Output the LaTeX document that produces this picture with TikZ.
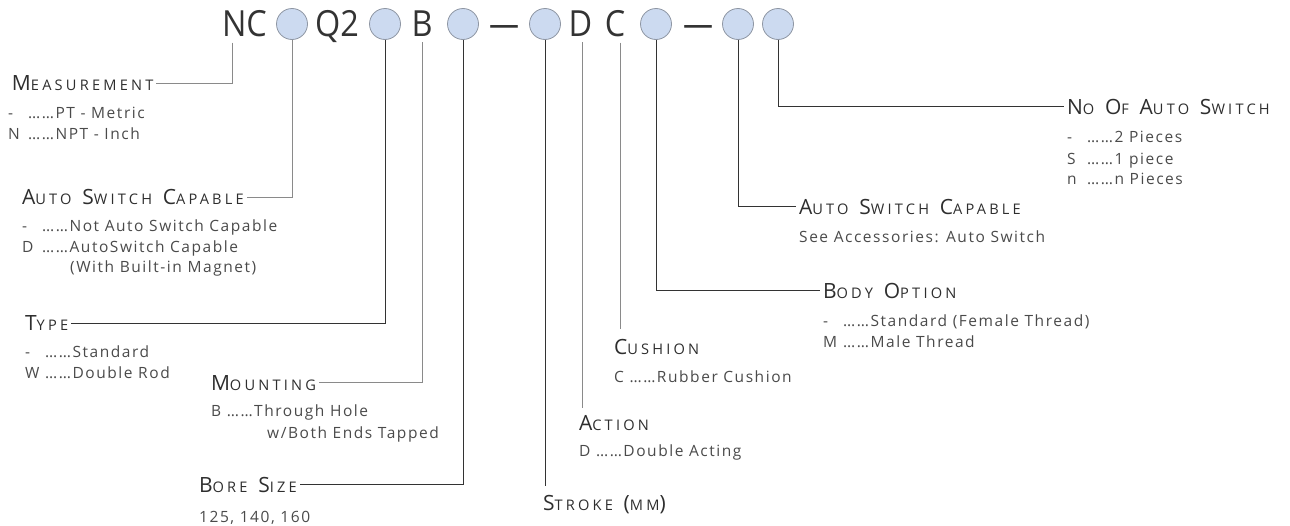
\documentclass[tikz,border=0pt]{standalone}
\usepackage{fontspec}
\setmainfont{Open Sans}
\newfontfamily\hdfont[LetterSpace=22]{Open Sans}
\newfontfamily\itfont[LetterSpace=10]{Open Sans}
\definecolor{circfill}{HTML}{CCDAF0}
\definecolor{circline}{HTML}{8E96A3}
\definecolor{txt}{HTML}{2E2E2E}
\definecolor{itm}{HTML}{4A4A4A}
\definecolor{ldark}{HTML}{333333}
\definecolor{lgray}{HTML}{8A8A8A}
\newcommand{\hdg}[2]{{\fontsize{21}{21}\selectfont #1}{\fontsize{14.6}{14.6}\selectfont #2}}
\newcommand{\hdbig}[1]{{\fontsize{21}{21}\selectfont #1}}
\newcommand{\wsp}{\hspace{6pt}}
\newcommand{\lead}[1]{\makebox[20pt][l]{#1}}
\tikzset{
  hd/.style={anchor=base west, inner sep=0pt, outer xsep=3pt, outer ysep=0pt, text=txt, font=\hdfont},
  it/.style={anchor=base west, inner sep=0pt, text=itm, font=\itfont\fontsize{15.5}{18}\selectfont},
  toptxt/.style={anchor=base, inner sep=0pt, text=ldark, font=\fontsize{36}{36}\selectfont},
  circ/.style={circle, draw=circline, fill=circfill, minimum size=31pt, inner sep=0pt, line width=0.8pt},
  dk/.style={draw=ldark, line width=1pt},
  gy/.style={draw=lgray, line width=1pt}
}
\begin{document}
\begin{tikzpicture}[x=1pt,y=-1pt]
\useasboundingbox (0,0) rectangle (1290,525);
% top code row
\node[toptxt] (nc) at (244.5,36) {\scalebox{0.9}[1]{NC}};
\node[circ] (c1) at (292,24) {};
\node[toptxt] (q2) at (337,36) {\scalebox{0.9}[1]{Q2}};
\node[circ] (c2) at (385,24) {};
\node[toptxt] (b) at (422,36) {\scalebox{0.9}[1]{B}};
\node[circ] (c3) at (463,24) {};
\node[toptxt] (dash1) at (504,36) {\resizebox{30pt}{\height}{—}};
\node[circ] (c4) at (545,24) {};
\node[toptxt] (d) at (580.5,36) {\scalebox{0.9}[1]{D}};
\node[toptxt] (c) at (615,36) {\scalebox{0.9}[1]{C}};
\node[circ] (c5) at (656,24) {};
\node[toptxt] (dash2) at (698,36) {\resizebox{30pt}{\height}{—}};
\node[circ] (c6) at (738,24) {};
\node[circ] (c7) at (778,24) {};

% headings
\node[hd] (meas) at (9,90.5) {\hdg{M}{EASUREMENT}};
\node[hd] (asc1) at (19,204.5) {\hdg{A}{UTO}\wsp\ \hdg{S}{WITCH}\wsp\ \hdg{C}{APABLE}};
\node[hd] (type) at (22,330.5) {\hdg{T}{YPE}};
\node[hd] (mount) at (208,390) {\hdg{M}{OUNTING}};
\node[hd] (bore) at (196,492) {\hdg{B}{ORE}\wsp\ \hdg{S}{IZE}};
\node[hd] (stroke) at (540,510.5) {\hdg{S}{TROKE}\wsp\ \hdbig{(}{\fontsize{14.6}{14.6}\selectfont MM}\hdbig{)}};
\node[hd] (action) at (576,430) {\hdg{A}{CTION}};
\node[hd] (cushion) at (611,354) {\hdg{C}{USHION}};
\node[hd] (body) at (820,298) {\hdg{B}{ODY}\wsp\ \hdg{O}{PTION}};
\node[hd] (asc2) at (796,214) {\hdg{A}{UTO}\wsp\ \hdg{S}{WITCH}\wsp\ \hdg{C}{APABLE}};
\node[hd] (noas) at (1064,114) {\hdg{N}{O}\wsp\ \hdg{O}{F}\wsp\ \hdg{A}{UTO}\wsp\ \hdg{S}{WITCH}};

% items
\node[it] (m1) at (8,118) {\lead{-}……PT - Metric};
\node[it] (m2) at (8,139) {\lead{N}……NPT - Inch};
\node[it] (a1) at (22,231) {\lead{-}……Not Auto Switch Capable};
\node[it] (a2) at (22,252) {\lead{D}……AutoSwitch Capable};
\node[it] (a3) at (70,272) {(With Built-in Magnet)};
\node[it] (t1) at (25,357) {\lead{-}……Standard};
\node[it] (t2) at (25,378) {\lead{W}……Double Rod};
\node[it] (mo1) at (211,416) {B ……Through Hole};
\node[it] (mo2) at (267,438) {w/Both Ends Tapped};
\node[it] (b1) at (199,522) {125, 140, 160};
\node[it] (ac1) at (579,456) {D ……Double Acting};
\node[it] (cu1) at (614,382) {C ……Rubber Cushion};
\node[it] (bo1) at (823,326) {\lead{-}……Standard (Female Thread)};
\node[it] (bo2) at (823,347) {\lead{M}……Male Thread};
\node[it] (s1) at (799,242) {See Accessories: Auto Switch};
\node[it] (n1) at (1067,142) {\lead{-}……2 Pieces};
\node[it] (n2) at (1067,164) {\lead{S}……1 piece};
\node[it] (n3) at (1067,184) {\lead{n}……n Pieces};

% connector helpers
\coordinate (ncfoot) at ([xshift=-12.5pt,yshift=-6pt]nc.south);
\coordinate (bfoot) at ([yshift=-6pt]b.south);
\coordinate (dfoot) at ([xshift=1.5pt,yshift=-6pt]d.south);
\coordinate (cfoot) at ([xshift=5pt,yshift=-6pt]c.south);
\coordinate (stroketop) at ([yshift=9pt]stroke.north);
\coordinate (actiontop) at ([yshift=7pt]action.north);
\coordinate (cushiontop) at ([yshift=10pt]cushion.north);

% connectors
\draw[gy] (ncfoot) |- (meas.east);
\draw[gy] (c1.south) |- (asc1.east);
\draw[dk] (c2.south) |- (type.east);
\draw[gy] (bfoot) |- (mount.east);
\draw[dk] (c3.south) |- (bore.east);
\draw[dk] (c4.south) -- (c4.south |- stroketop);
\draw[gy] (dfoot) -- (dfoot |- actiontop);
\draw[gy] (cfoot) -- (cfoot |- cushiontop);
\draw[dk] (c5.south) |- (body.west);
\draw[dk] (c6.south) |- (asc2.west);
\draw[dk] (c7.south) |- (noas.west);
\end{tikzpicture}
\end{document}
